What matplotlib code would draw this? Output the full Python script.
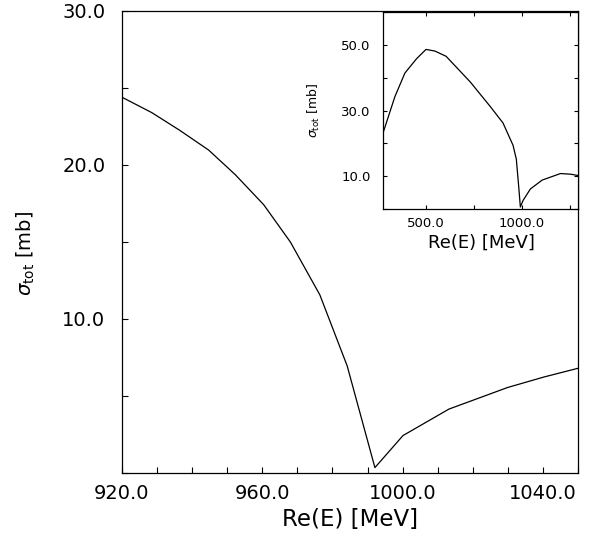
import matplotlib
matplotlib.use("Agg")
import matplotlib.pyplot as plt
from matplotlib.ticker import MultipleLocator, FuncFormatter

plt.rcParams['font.family'] = ['DejaVu Sans']
plt.rcParams['mathtext.fontset'] = 'dejavusans'

# Main panel data
energy_main = [920, 928.5, 936.4, 944.7, 952.3, 960.4, 968.0, 976.4, 984.2, 992.1,
               1000.1, 1013.2, 1029.9, 1040.4, 1050]
sigma_main = [24.4, 23.4, 22.26, 20.97, 19.37, 17.42, 15.0, 11.57, 6.95, 0.35,
              2.43, 4.15, 5.55, 6.24, 6.8]

# Inset data
energy_inset = [280, 340, 392, 453, 501.5, 548, 606, 731, 835, 901, 953, 970, 982, 991,
                1005, 1043, 1104, 1199, 1252, 1290]
sigma_inset = [23.4, 34.2, 41.4, 45.8, 48.6, 48.1, 46.5, 38.7, 31.2, 26.2, 19.4, 15.2, 7.1, 0.6,
               2.6, 6.1, 8.8, 10.8, 10.6, 10.2]

main_xticklabels = [920, 960, 1000, 1040]
main_yticklabels = [10, 20, 30]
inset_xticklabels = [500, 1000]
inset_yticklabels = [10, 30, 50]

W, H = 593, 533
fig = plt.figure(figsize=(W / 100, H / 100), dpi=100)

ax = fig.add_axes([122 / W, 1 - 473 / H, (578 - 122) / W, (473 - 11) / H])
ax.plot(energy_main, sigma_main, color='black', lw=0.9)
ax.set_xlim(920, 1050)
ax.set_ylim(0, 30)

def fmt_sel(labels):
    return FuncFormatter(lambda v, p: f"{v:.1f}" if any(abs(v - l) < 1e-6 for l in labels) else "")

ax.xaxis.set_major_locator(MultipleLocator(10))
ax.xaxis.set_major_formatter(fmt_sel(main_xticklabels))
ax.yaxis.set_major_locator(MultipleLocator(5))
ax.yaxis.set_major_formatter(fmt_sel(main_yticklabels))
ax.tick_params(direction='in', length=4, width=0.8, labelsize=14, top=False, right=False)
ax.tick_params(axis='x', pad=8)
ax.tick_params(axis='y', pad=12)
for s in ax.spines.values():
    s.set_linewidth(0.9)
ax.set_xlabel('Re(E) [MeV]', fontsize=16.5)
ax.set_ylabel(r'$\sigma_{\mathrm{tot}}$ [mb]', fontsize=14)
ax.xaxis.set_label_coords(0.5, -0.076)
ax.yaxis.set_label_coords(-0.186, 0.476)

# Inset
ins = fig.add_axes([383.3 / W, 1 - 209 / H, (578 - 383.3) / W, (209 - 12) / H])
ins.plot(energy_inset, sigma_inset, color='black', lw=0.9)
ins.set_xlim(280, 1290)
ins.set_ylim(0, 60)
ins.xaxis.set_major_locator(MultipleLocator(250))
ins.xaxis.set_major_formatter(fmt_sel(inset_xticklabels))
ins.yaxis.set_major_locator(MultipleLocator(10))
ins.yaxis.set_major_formatter(fmt_sel(inset_yticklabels))
ins.tick_params(direction='in', length=3, width=0.8, labelsize=9.5, top=True, right=True)
ins.tick_params(axis='x', pad=6)
ins.tick_params(axis='y', pad=9)
for s in ins.spines.values():
    s.set_linewidth(0.9)
ins.set_xlabel('Re(E) [MeV]', fontsize=13)
ins.set_ylabel(r'$\sigma_{\mathrm{tot}}$ [mb]', fontsize=9)
ins.xaxis.set_label_coords(0.505, -0.127)
ins.yaxis.set_label_coords(-0.315, 0.5)

fig.savefig('out.png', dpi=100)
